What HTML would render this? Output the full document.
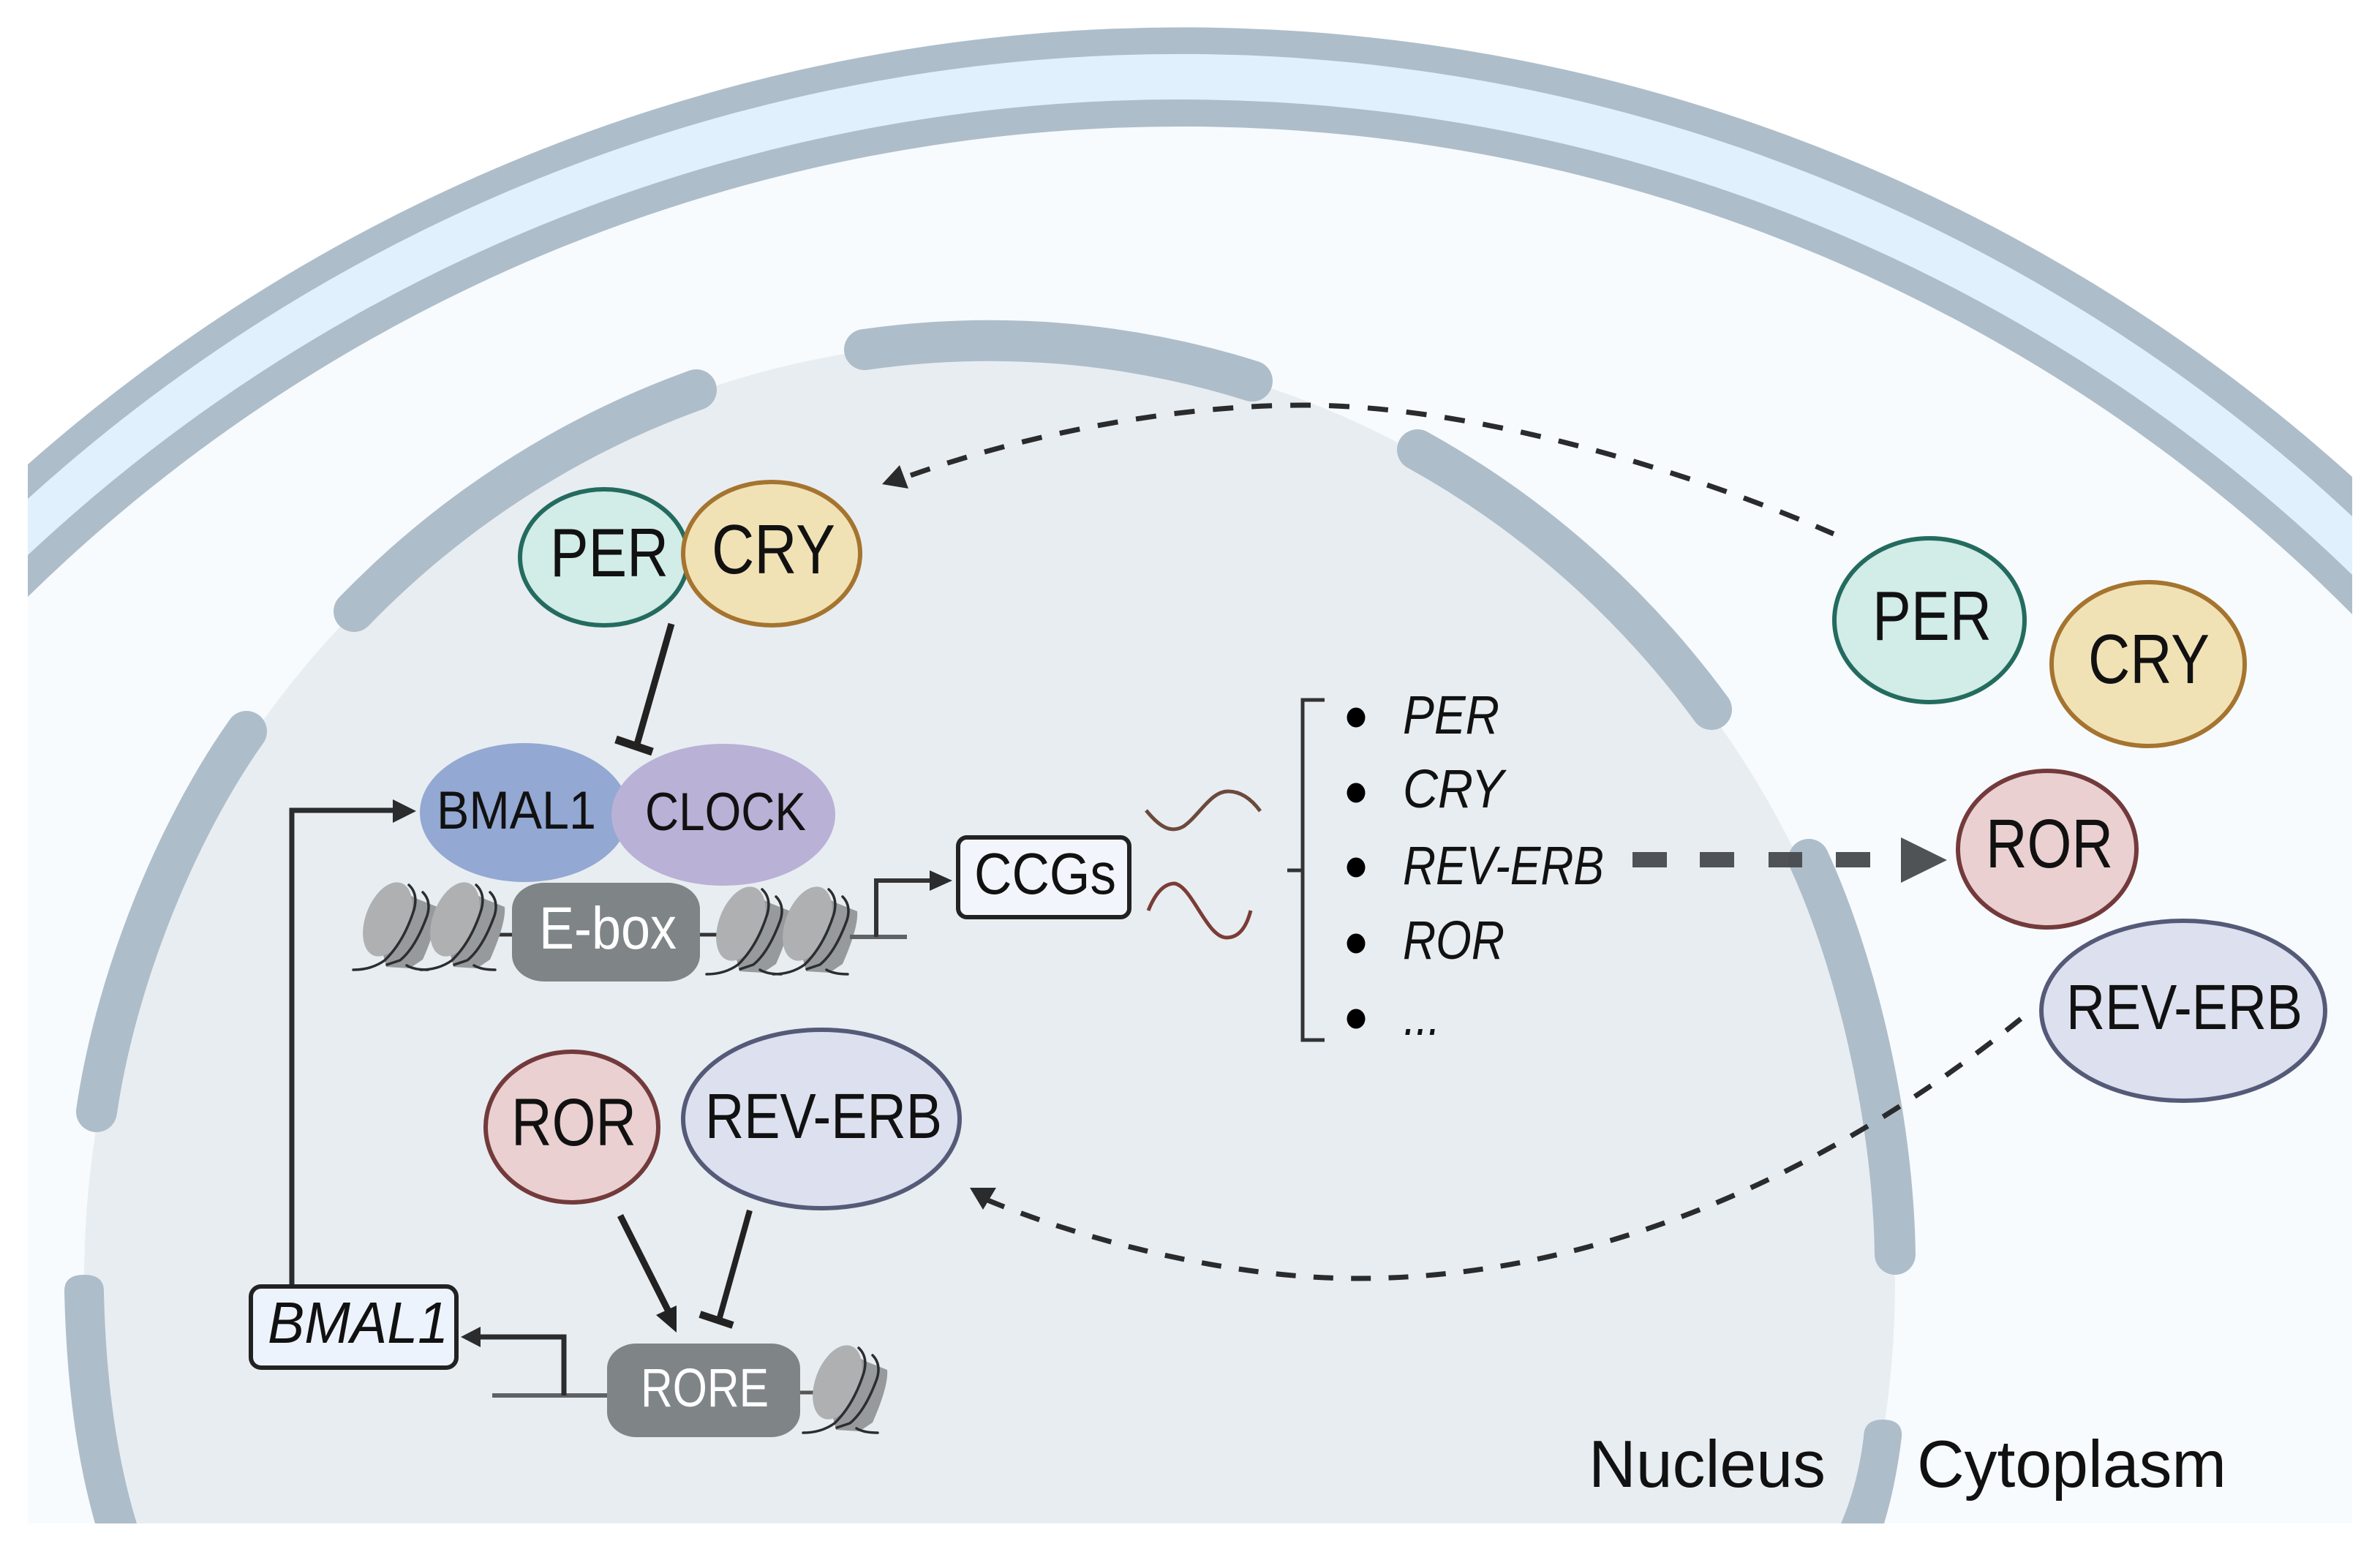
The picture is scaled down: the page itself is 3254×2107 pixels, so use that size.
<!DOCTYPE html>
<html><head><meta charset="utf-8"><style>html,body{margin:0;padding:0;background:#fff;width:3254px;height:2107px;overflow:hidden}svg{display:block;overflow:hidden}text{font-family:"Liberation Sans",sans-serif;fill:#111}</style></head><body>
<svg xmlns="http://www.w3.org/2000/svg" width="3254" height="2107" viewBox="0 0 3254 2107">
<defs>
<clipPath id="c"><rect x="38" y="0" width="3178" height="2083"/></clipPath>
<g id="n">
<path d="M546 1216 L568 1228 L598 1240 Q600 1262 578 1312 L560 1324 L528 1322 L520 1290 Z" fill="#979a9c"/>
<ellipse cx="530" cy="1257" rx="30" ry="53" transform="rotate(21 530 1257)" fill="#aeb0b2"/>
<path d="M559 1210 Q572 1222 566 1244 Q552 1288 526 1313 Q508 1326 483 1326 M578 1220 Q590 1232 584 1252 Q568 1296 547 1313 L529 1319 M556 1320 Q566 1326 585 1326" fill="none" stroke="#2b2d2f" stroke-width="3.500" stroke-linecap="round"/>
</g>
</defs>
<rect width="3254" height="2107" fill="#fff"/>
<g clip-path="url(#c)">
<path d="M38 635 A2386 2386 0 0 1 3216 652 V2083 H38 Z" fill="#aebdca"/>
<path d="M38 682 A2346 2346 0 0 1 3216 706 V2083 H38 Z" fill="#e0f0fd"/>
<path d="M38 759 A2302 2302 0 0 1 3216 786 V2083 H38 Z" fill="#aebdca"/>
<path d="M38 816 A2255 2255 0 0 1 3216 840 V2083 H38 Z" fill="#f7fbfe"/>
<path d="M157 2083 A1238 1284 0 1 1 2549 2083 Z" fill="#e8edf1"/>
<g fill="none" stroke="#aebdca" stroke-width="56" stroke-linecap="round">
<path d="M1182 478 A1238 1284 0 0 1 1712 521"/>
<path d="M1938 615 A1238 1284 0 0 1 2340 970"/>
<path d="M952 533 A1238 1284 0 0 0 484 836"/>
<path d="M337 1000 C245 1130 160 1330 132 1520"/>
<path d="M2473 1175 C2535 1310 2588 1520 2591 1715"/>
</g>
<path d="M88 1765 Q88 1743 115 1743 Q142 1743 142 1765 Q146 1950 187 2083 L130 2083 Q92 1950 88 1765 Z" fill="#aebdca"/>
<path d="M2548 1965 Q2548 1941 2574 1941 Q2602 1941 2600 1965 Q2592 2030 2576 2083 L2517 2083 Q2540 2030 2548 1965 Z" fill="#aebdca"/>
</g>
<!-- dashed curves -->
<g fill="none" stroke="#2a2b2d" stroke-width="7">
<path stroke-dasharray="28 25" d="M1245 650 C1400 595 1600 554 1783 554 C2010 554 2300 640 2507 730"/>
<path stroke-dasharray="27 24.350" d="M1348 1640 C1480 1695 1680 1748 1855 1748 C2200 1748 2520 1590 2763 1393"/>
</g>
<polygon points="1230,636 1206,662 1242,668" fill="#2a2b2d"/>
<polygon points="1326,1624 1362,1624 1344,1654" fill="#2a2b2d"/>
<!-- thick dashed arrow -->
<g fill="#474a4d" fill-opacity=".95">
<rect x="2232" y="1165" width="47" height="21"/><rect x="2324" y="1165" width="47" height="21"/><rect x="2418" y="1165" width="46" height="21"/><rect x="2510" y="1165" width="47" height="21"/>
<polygon points="2599,1145 2599,1207 2662,1176"/>
</g>
<!-- nucleus PER/CRY -->
<ellipse cx="826" cy="762" rx="115" ry="93" fill="#d2ece8" stroke="#246b5f" stroke-width="6"/>
<ellipse cx="1055" cy="757" rx="121" ry="98" fill="#f1e2b6" stroke="#a5742f" stroke-width="6"/>
<text x="752" y="788" font-size="94" textLength="162" lengthAdjust="spacingAndGlyphs">PER</text>
<text x="973" y="784" font-size="96" textLength="169" lengthAdjust="spacingAndGlyphs">CRY</text>
<path d="M918 853 L870 1021" stroke="#222" stroke-width="9" fill="none"/>
<path d="M842 1011 L892 1028" stroke="#222" stroke-width="11" fill="none"/>
<!-- BMAL1 / CLOCK -->
<ellipse cx="717" cy="1111" rx="143" ry="95" fill="#93a8d2"/>
<ellipse cx="989" cy="1114" rx="153" ry="97" fill="#b9b1d6"/>
<text x="597" y="1133" font-size="73" textLength="218" lengthAdjust="spacingAndGlyphs">BMAL1</text>
<text x="882" y="1135" font-size="73" textLength="220" lengthAdjust="spacingAndGlyphs">CLOCK</text>
<!-- BMAL arrow -->
<path d="M399 1760 V1108 H540" fill="none" stroke="#2b2c2e" stroke-width="7"/>
<polygon points="537,1093 537,1125 569,1109" fill="#2b2c2e"/>
<!-- chromatin -->
<path d="M677 1278 H700 M957 1278 H983" stroke="#333" stroke-width="5"/>
<use href="#n"/>
<use href="#n" transform="translate(92 0)"/>
<use href="#n" transform="translate(483 6)"/>
<use href="#n" transform="translate(574 6)"/>
<rect x="700" y="1207" width="257" height="135" rx="44" ry="36" fill="#7f8487"/>
<text x="737" y="1297" font-size="82" textLength="188" lengthAdjust="spacingAndGlyphs" style="fill:#fff">E-box</text>
<path d="M1162 1281 H1240" stroke="#5f6265" stroke-width="6"/>
<path d="M1198 1281 V1204 H1275" fill="none" stroke="#333" stroke-width="6"/>
<polygon points="1271,1190 1271,1218 1302,1204" fill="#2b2c2e"/>
<rect x="1310" y="1145" width="234" height="109" rx="12" fill="#f2f6fc" stroke="#222" stroke-width="6"/>
<text x="1332" y="1222" font-size="80" textLength="194" lengthAdjust="spacingAndGlyphs">CCGs</text>
<!-- mRNA waves -->
<path d="M1567 1108 C1585 1130 1600 1140 1618 1130 C1640 1115 1655 1082 1679 1082 C1698 1082 1712 1094 1723 1109" fill="none" stroke="#6b4a3c" stroke-width="5"/>
<path d="M1570 1245 C1580 1220 1592 1208 1606 1208 C1630 1212 1650 1282 1677 1282 C1694 1282 1704 1268 1710 1245" fill="none" stroke="#7b3c36" stroke-width="5"/>
<!-- bracket -->
<path d="M1811 957 H1781 V1422 H1811 M1760 1190 H1781" fill="none" stroke="#333" stroke-width="5"/>
<g fill="#000">
<ellipse cx="1854" cy="981" rx="12.500" ry="13.500"/><ellipse cx="1854" cy="1084" rx="12.500" ry="13.500"/><ellipse cx="1854" cy="1186" rx="12.500" ry="13.500"/><ellipse cx="1854" cy="1290" rx="12.500" ry="13.500"/><ellipse cx="1854" cy="1393" rx="12.500" ry="13.500"/>
</g>
<g font-size="74" font-style="italic">
<text x="1918" y="1003" textLength="132" lengthAdjust="spacingAndGlyphs">PER</text>
<text x="1918" y="1104" textLength="138" lengthAdjust="spacingAndGlyphs">CRY</text>
<text x="1918" y="1209" textLength="275" lengthAdjust="spacingAndGlyphs">REV-ERB</text>
<text x="1918" y="1311" textLength="139" lengthAdjust="spacingAndGlyphs">ROR</text>
<text x="1919" y="1415" textLength="50" lengthAdjust="spacingAndGlyphs">...</text>
</g>
<!-- cytoplasm proteins -->
<ellipse cx="2638" cy="848" rx="130" ry="112" fill="#d2ece8" stroke="#246b5f" stroke-width="6"/>
<text x="2560" y="875" font-size="96" textLength="163" lengthAdjust="spacingAndGlyphs">PER</text>
<ellipse cx="2937" cy="908" rx="132" ry="112" fill="#f1e2b6" stroke="#a5742f" stroke-width="6"/>
<text x="2855" y="934" font-size="96" textLength="166" lengthAdjust="spacingAndGlyphs">CRY</text>
<ellipse cx="2799" cy="1161" rx="122" ry="107" fill="#ebd0d1" stroke="#733a3c" stroke-width="6"/>
<text x="2715" y="1186" font-size="95" textLength="174" lengthAdjust="spacingAndGlyphs">ROR</text>
<ellipse cx="2985" cy="1382" rx="194" ry="123" fill="#dde0ee" stroke="#555a78" stroke-width="6"/>
<text x="2825" y="1407" font-size="87" textLength="323" lengthAdjust="spacingAndGlyphs">REV-ERB</text>
<!-- nuclear ROR/REV-ERB -->
<ellipse cx="782" cy="1541" rx="118" ry="103" fill="#ebd0d1" stroke="#733a3c" stroke-width="6"/>
<text x="699" y="1566" font-size="92" textLength="171" lengthAdjust="spacingAndGlyphs">ROR</text>
<ellipse cx="1123" cy="1530" rx="189" ry="122" fill="#dde0ee" stroke="#555a78" stroke-width="6"/>
<text x="964" y="1556" font-size="87" textLength="324" lengthAdjust="spacingAndGlyphs">REV-ERB</text>
<path d="M848 1662 L915 1795" stroke="#222" stroke-width="9" fill="none"/>
<polygon points="925,1822 897,1798 925,1785" fill="#222"/>
<path d="M1025 1655 L983 1805" stroke="#222" stroke-width="8" fill="none"/>
<path d="M957 1797 L1002 1812" stroke="#222" stroke-width="10" fill="none"/>
<!-- BMAL1 gene -->
<rect x="343" y="1759" width="281" height="111" rx="14" fill="#edf3fc" stroke="#222" stroke-width="6"/>
<text x="366" y="1836" font-size="80" font-style="italic" textLength="247" lengthAdjust="spacingAndGlyphs">BMAL1</text>
<path d="M673 1908 H830" stroke="#5f6265" stroke-width="6"/>
<path d="M771 1908 V1828 H650" fill="none" stroke="#2b2c2e" stroke-width="7"/>
<polygon points="657,1814 657,1842 630,1828" fill="#2b2c2e"/>
<path d="M1094 1904 H1118" stroke="#555" stroke-width="5"/>
<use href="#n" transform="translate(615 633)"/>
<rect x="830" y="1837" width="264" height="128" rx="40" ry="34" fill="#7f8487"/>
<text x="876" y="1923" font-size="74" textLength="175" lengthAdjust="spacingAndGlyphs" style="fill:#fff">RORE</text>
<!-- labels -->
<text x="2172" y="2033" font-size="91" textLength="324" lengthAdjust="spacingAndGlyphs">Nucleus</text>
<text x="2621" y="2033" font-size="91" textLength="423" lengthAdjust="spacingAndGlyphs">Cytoplasm</text>
</svg>
</body></html>
